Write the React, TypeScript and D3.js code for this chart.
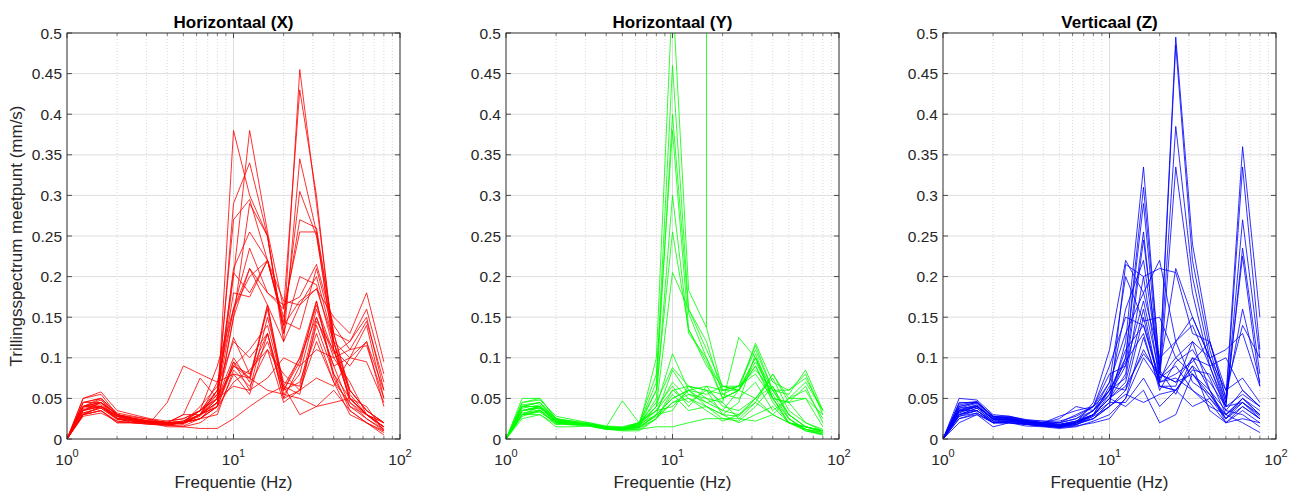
import React from 'react';
import * as d3 from 'd3';

const FREQS = [1, 1.25, 1.6, 2, 2.5, 3.15, 4, 5, 6.3, 8, 10, 12.5, 16, 20, 25, 31.5, 40, 50, 63, 80];
const Y_TICKS = [0, 0.05, 0.1, 0.15, 0.2, 0.25, 0.3, 0.35, 0.4, 0.45, 0.5];
const X_MAJOR = [1, 10, 100];
const X_MINOR = [2, 3, 4, 5, 6, 7, 8, 9, 20, 30, 40, 50, 60, 70, 80, 90];
const TITLES = ['Horizontaal (X)', 'Horizontaal (Y)', 'Verticaal (Z)'];
const COLORS = ['#ff0000', '#00ff00', '#0000ff'];
const Y_LABEL = 'Trillingsspectrum meetpunt (mm/s)';
const X_LABEL = 'Frequentie (Hz)';

const SERIES_X = [
  [0, .035, .045, .025, .025, .022, .02, .02, .03, .04, .38, .30, .25, .13, .455, .29, .12, .05, .03, .015],
  [0, .04, .05, .03, .027, .024, .02, .022, .035, .05, .20, .38, .255, .16, .43, .30, .11, .05, .03, .02],
  [0, .03, .04, .028, .023, .02, .018, .02, .025, .045, .29, .34, .25, .12, .345, .255, .13, .06, .035, .02],
  [0, .045, .05, .03, .025, .02, .018, .02, .03, .06, .27, .295, .22, .14, .305, .25, .12, .045, .03, .015],
  [0, .038, .04, .027, .025, .021, .02, .022, .03, .055, .21, .255, .22, .15, .27, .26, .13, .055, .03, .02],
  [0, .04, .045, .025, .024, .022, .019, .018, .03, .07, .16, .235, .18, .16, .255, .255, .11, .06, .035, .02],
  [0, .03, .035, .022, .02, .02, .017, .016, .025, .04, .15, .21, .18, .165, .175, .215, .14, .11, .115, .05],
  [0, .05, .055, .03, .025, .02, .022, .025, .035, .055, .16, .2, .22, .14, .17, .185, .15, .13, .18, .095],
  [0, .035, .04, .03, .022, .021, .02, .02, .03, .06, .18, .175, .22, .145, .135, .21, .13, .12, .16, .08],
  [0, .032, .038, .024, .022, .02, .018, .02, .028, .05, .10, .07, .165, .06, .095, .165, .105, .12, .15, .06],
  [0, .04, .048, .028, .024, .02, .018, .02, .03, .045, .09, .075, .16, .055, .08, .16, .1, .11, .145, .07],
  [0, .036, .04, .025, .022, .021, .02, .02, .025, .04, .095, .06, .15, .07, .065, .15, .09, .1, .14, .05],
  [0, .03, .035, .02, .02, .018, .017, .015, .02, .035, .08, .055, .13, .05, .06, .14, .08, .05, .03, .015],
  [0, .045, .045, .03, .025, .022, .02, .022, .035, .05, .125, .08, .12, .06, .07, .13, .07, .045, .025, .01],
  [0, .04, .042, .028, .024, .02, .018, .02, .03, .04, .09, .11, .14, .065, .1, .17, .075, .04, .03, .012],
  [0, .035, .045, .03, .026, .022, .02, .03, .03, .05, .09, .08, .13, .05, .09, .17, .08, .035, .02, .01],
  [0, .028, .032, .022, .02, .019, .02, .02, .025, .03, .085, .065, .11, .045, .06, .12, .07, .03, .02, .008],
  [0, .03, .035, .02, .02, .02, .015, .015, .013, .013, .025, .04, .055, .065, .03, .04, .06, .035, .02, .005],
  [0, .04, .045, .03, .025, .02, .045, .09, .08, .07, .08, .075, .06, .055, .05, .04, .045, .05, .04, .01],
  [0, .035, .04, .025, .022, .02, .02, .03, .075, .05, .065, .06, .075, .1, .09, .11, .1, .07, .03, .015],
  [0, .03, .04, .028, .025, .022, .018, .02, .04, .065, .12, .1, .13, .06, .1, .15, .09, .04, .025, .012],
  [0, .045, .05, .032, .028, .024, .02, .02, .035, .09, .16, .21, .165, .12, .165, .2, .12, .06, .035, .02],
  [0, .04, .04, .025, .02, .018, .017, .02, .03, .045, .15, .29, .25, .13, .20, .19, .11, .05, .03, .015],
  [0, .05, .058, .035, .03, .025, .022, .025, .035, .06, .205, .18, .22, .17, .165, .185, .12, .1, .12, .06],
  [0, .032, .038, .025, .022, .02, .019, .02, .025, .04, .07, .085, .11, .08, .06, .075, .065, .1, .095, .045],
  [0, .04, .045, .03, .024, .02, .018, .02, .03, .045, .095, .075, .165, .065, .055, .145, .11, .09, .12, .04],
];

const SERIES_Y = [
  [0, .04, .045, .025, .02, .018, .015, .012, .015, .1, .55, .183, .137, .06, .06, .1, .05, .02, .012, .008],
  [0, .035, .04, .022, .02, .018, .014, .012, .018, .07, .46, .16, .12, .055, .065, .11, .06, .03, .015, .01],
  [0, .03, .04, .02, .02, .017, .014, .013, .016, .06, .40, .155, .1, .05, .06, .095, .055, .025, .012, .008],
  [0, .045, .05, .025, .022, .02, .015, .014, .02, .08, .38, .135, .09, .065, .06, .1, .05, .02, .015, .01],
  [0, .04, .04, .022, .02, .018, .015, .012, .016, .05, .30, .13, .1, .06, .065, .115, .06, .03, .015, .01],
  [0, .03, .035, .02, .02, .017, .013, .012, .02, .06, .255, .135, .095, .05, .06, .09, .05, .025, .01, .006],
  [0, .035, .038, .022, .018, .018, .014, .012, .016, .04, .205, .16, .11, .065, .06, .09, .045, .02, .012, .005],
  [0, .05, .05, .025, .02, .018, .015, .047, .02, .04, .105, .06, .065, .06, .065, .085, .06, .055, .085, .035],
  [0, .03, .035, .02, .02, .018, .015, .014, .02, .045, .088, .065, .05, .045, .125, .1, .06, .06, .08, .03],
  [0, .035, .04, .023, .022, .018, .013, .012, .018, .03, .085, .055, .045, .035, .06, .118, .07, .06, .075, .035],
  [0, .04, .045, .02, .018, .018, .012, .012, .02, .035, .07, .05, .04, .03, .045, .105, .05, .045, .065, .02],
  [0, .03, .03, .015, .015, .016, .012, .01, .01, .025, .06, .065, .06, .045, .025, .045, .08, .05, .05, .015],
  [0, .025, .03, .018, .02, .016, .012, .012, .014, .03, .05, .06, .055, .065, .065, .08, .05, .045, .05, .03],
  [0, .035, .038, .022, .02, .018, .015, .013, .018, .04, .065, .04, .065, .04, .035, .05, .075, .035, .02, .01],
  [0, .04, .04, .025, .022, .017, .013, .012, .015, .028, .045, .055, .05, .035, .03, .045, .03, .02, .015, .008],
  [0, .028, .035, .018, .018, .016, .012, .011, .012, .025, .055, .035, .04, .025, .022, .04, .065, .03, .015, .01],
  [0, .045, .048, .028, .024, .02, .016, .015, .02, .035, .04, .06, .045, .05, .06, .05, .03, .05, .07, .035],
  [0, .03, .033, .02, .018, .017, .013, .011, .012, .015, .015, .02, .025, .025, .025, .022, .03, .02, .01, .005],
  [0, .038, .042, .024, .02, .018, .015, .012, .014, .03, .05, .06, .04, .03, .028, .05, .065, .025, .012, .006],
  [0, .032, .036, .02, .017, .017, .014, .012, .016, .035, .06, .045, .06, .055, .05, .07, .035, .05, .06, .025],
  [0, .042, .045, .024, .02, .019, .014, .013, .015, .03, .035, .065, .06, .03, .02, .03, .04, .02, .015, .01],
  [0, .035, .04, .02, .018, .018, .014, .012, .014, .025, .045, .05, .035, .022, .03, .05, .08, .045, .02, .012],
];

// vertical excursion at 16 Hz in the Y panel (frequency, value pairs)
const SPIKE_Y_FREQ = [16, 16];
const SPIKE_Y_VAL = [0.137, 5];

const SERIES_Z = [
  [0, .035, .04, .025, .025, .022, .02, .018, .02, .03, .05, .10, .31, .09, .495, .24, .12, .05, .36, .15],
  [0, .03, .038, .022, .022, .02, .018, .016, .02, .03, .045, .12, .335, .085, .485, .22, .11, .045, .335, .11],
  [0, .04, .045, .028, .026, .022, .02, .02, .025, .04, .06, .1, .29, .08, .385, .2, .1, .04, .27, .1],
  [0, .035, .042, .024, .024, .021, .019, .017, .02, .035, .055, .09, .255, .07, .335, .18, .09, .04, .235, .08],
  [0, .038, .044, .026, .027, .023, .02, .018, .022, .03, .05, .08, .245, .085, .21, .15, .1, .045, .225, .065],
  [0, .03, .035, .02, .02, .019, .017, .015, .018, .025, .04, .215, .2, .21, .205, .13, .12, .05, .16, .07],
  [0, .032, .04, .025, .023, .02, .018, .016, .02, .045, .11, .22, .18, .22, .12, .15, .1, .06, .14, .1],
  [0, .04, .045, .027, .025, .022, .02, .018, .022, .035, .07, .2, .145, .15, .1, .12, .1, .11, .13, .065],
  [0, .025, .03, .02, .02, .018, .016, .015, .018, .03, .06, .16, .22, .085, .055, .1, .09, .1, .06, .04],
  [0, .05, .048, .03, .028, .024, .022, .02, .03, .04, .09, .15, .14, .07, .08, .095, .12, .06, .075, .045],
  [0, .02, .03, .015, .02, .016, .015, .013, .015, .022, .03, .05, .125, .065, .065, .12, .06, .025, .05, .03],
  [0, .035, .035, .022, .022, .02, .018, .015, .02, .03, .05, .065, .105, .08, .07, .08, .05, .025, .04, .025],
  [0, .045, .045, .028, .026, .022, .02, .025, .04, .035, .06, .075, .2, .07, .075, .06, .04, .03, .05, .03],
  [0, .028, .035, .02, .022, .018, .017, .015, .02, .025, .045, .045, .075, .04, .06, .09, .035, .02, .035, .02],
  [0, .03, .038, .022, .024, .019, .016, .014, .017, .028, .04, .055, .045, .055, .06, .04, .05, .03, .02, .008],
  [0, .038, .04, .025, .025, .021, .019, .017, .022, .03, .065, .06, .15, .065, .06, .09, .07, .04, .045, .03],
  [0, .033, .04, .024, .023, .02, .018, .016, .02, .028, .055, .11, .14, .075, .1, .08, .055, .03, .045, .028],
  [0, .042, .046, .028, .028, .023, .022, .022, .028, .04, .07, .13, .18, .1, .12, .14, .09, .035, .06, .04],
  [0, .03, .035, .02, .022, .019, .017, .015, .02, .03, .05, .04, .06, .02, .03, .08, .06, .035, .03, .015],
  [0, .036, .042, .025, .024, .021, .02, .028, .035, .04, .08, .09, .17, .08, .07, .1, .06, .02, .04, .025],
  [0, .028, .032, .02, .02, .018, .016, .014, .016, .02, .025, .05, .10, .07, .12, .07, .055, .025, .045, .025],
  [0, .044, .046, .027, .027, .022, .02, .02, .025, .035, .06, .095, .13, .06, .095, .11, .075, .03, .05, .035],
  [0, .034, .04, .024, .024, .02, .018, .017, .02, .03, .05, .07, .16, .065, .06, .085, .08, .04, .055, .04],
  [0, .025, .032, .02, .02, .018, .016, .015, .018, .025, .04, .06, .11, .075, .09, .06, .045, .02, .025, .02],
];

const PANEL_LEFTS = [67, 506, 943];
const PLOT_W = 333;
const TOP = 33;
const BOTTOM = 439;
const AX_COLOR = '#262626';
const FONT = '"Liberation Sans", Arial, Helvetica, sans-serif';

type PanelProps = {
  idx: number;
  series: number[][];
  spikeF?: number[];
  spikeV?: number[];
};

function Panel({ idx, series, spikeF, spikeV }: PanelProps) {
  const left = PANEL_LEFTS[idx];
  const x = d3.scaleLog().domain([1, 100]).range([left, left + PLOT_W]);
  const y = d3.scaleLinear().domain([0, 0.5]).range([BOTTOM, TOP]);
  const line = d3
    .line<number>()
    .x((_, i) => x(FREQS[i]))
    .y((d) => y(d));
  const clipId = `clip-${idx}`;
  const color = COLORS[idx];
  const tickLen = 5;
  const minorLen = 3;
  let spikePath: string | null = null;
  if (spikeF && spikeV) {
    spikePath = d3
      .line<number>()
      .x((_, i) => x(spikeF[i]))
      .y((d) => y(d))(spikeV);
  }
  return (
    <g>
      <defs>
        <clipPath id={clipId}>
          <rect x={left} y={TOP} width={PLOT_W} height={BOTTOM - TOP} />
        </clipPath>
      </defs>
      <rect x={left} y={TOP} width={PLOT_W} height={BOTTOM - TOP} fill="#ffffff" />
      {/* minor grid */}
      {X_MINOR.map((f) => (
        <line
          key={'mg' + f}
          x1={x(f)}
          x2={x(f)}
          y1={TOP}
          y2={BOTTOM}
          stroke="#c8c8c8"
          strokeWidth={0.7}
          strokeDasharray="1,2"
        />
      ))}
      {/* major grid */}
      {Y_TICKS.map((t) => (
        <line key={'gy' + t} x1={left} x2={left + PLOT_W} y1={y(t)} y2={y(t)} stroke="#dedede" strokeWidth={1} />
      ))}
      {X_MAJOR.map((f) => (
        <line key={'gx' + f} x1={x(f)} x2={x(f)} y1={TOP} y2={BOTTOM} stroke="#dedede" strokeWidth={1} />
      ))}
      {/* data */}
      <g clipPath={`url(#${clipId})`}>
        {series.map((s, i) => (
          <path key={i} d={line(s) || ''} fill="none" stroke={color} strokeWidth={0.9} strokeOpacity={0.9} />
        ))}
        {spikePath && <path d={spikePath} fill="none" stroke={color} strokeWidth={0.9} strokeOpacity={0.9} />}
      </g>
      {/* ticks */}
      {Y_TICKS.map((t) => (
        <g key={'ty' + t}>
          <line x1={left} x2={left + tickLen} y1={y(t)} y2={y(t)} stroke={AX_COLOR} strokeWidth={0.8} />
          <line x1={left + PLOT_W} x2={left + PLOT_W - tickLen} y1={y(t)} y2={y(t)} stroke={AX_COLOR} strokeWidth={0.8} />
          <text
            x={left - 5}
            y={y(t)}
            dy="0.36em"
            textAnchor="end"
            fontSize={15.5}
            fill={AX_COLOR}
            fontFamily={FONT}
          >
            {String(+t.toFixed(2))}
          </text>
        </g>
      ))}
      {X_MAJOR.map((f) => (
        <g key={'tx' + f}>
          <line x1={x(f)} x2={x(f)} y1={BOTTOM} y2={BOTTOM - tickLen} stroke={AX_COLOR} strokeWidth={0.8} />
          <line x1={x(f)} x2={x(f)} y1={TOP} y2={TOP + tickLen} stroke={AX_COLOR} strokeWidth={0.8} />
          <text x={x(f)} y={465} textAnchor="middle" fontSize={15.5} fill={AX_COLOR} fontFamily={FONT}>
            <tspan>10</tspan>
            <tspan dy={-8} fontSize={11}>
              {String(Math.round(Math.log10(f)))}
            </tspan>
          </text>
        </g>
      ))}
      {X_MINOR.map((f) => (
        <g key={'tm' + f}>
          <line x1={x(f)} x2={x(f)} y1={BOTTOM} y2={BOTTOM - minorLen} stroke={AX_COLOR} strokeWidth={0.6} />
          <line x1={x(f)} x2={x(f)} y1={TOP} y2={TOP + minorLen} stroke={AX_COLOR} strokeWidth={0.6} />
        </g>
      ))}
      {/* box */}
      <rect
        x={left}
        y={TOP}
        width={PLOT_W}
        height={BOTTOM - TOP}
        fill="none"
        stroke={AX_COLOR}
        strokeWidth={0.9}
      />
      <text
        x={left + PLOT_W / 2}
        y={27.5}
        textAnchor="middle"
        fontSize={17}
        fontWeight="bold"
        fill="#000000"
        fontFamily={FONT}
      >
        {TITLES[idx]}
      </text>
      <text
        x={left + PLOT_W / 2}
        y={488}
        textAnchor="middle"
        fontSize={17}
        fill={AX_COLOR}
        fontFamily={FONT}
      >
        {X_LABEL}
      </text>
      {idx === 0 && (
        <text
          transform={`translate(22, ${(TOP + BOTTOM) / 2}) rotate(-90)`}
          textAnchor="middle"
          fontSize={17}
          fill={AX_COLOR}
          fontFamily={FONT}
        >
          {Y_LABEL}
        </text>
      )}
    </g>
  );
}

export default function App() {
  return (
    <svg
      width={1303}
      height={495}
      viewBox="0 0 1303 495"
      style={{ position: 'absolute', left: 0, top: 0, background: '#ffffff' }}
    >
      <rect x={0} y={0} width={1303} height={495} fill="#ffffff" />
      <Panel idx={0} series={SERIES_X} />
      <Panel idx={1} series={SERIES_Y} spikeF={SPIKE_Y_FREQ} spikeV={SPIKE_Y_VAL} />
      <Panel idx={2} series={SERIES_Z} />
    </svg>
  );
}
